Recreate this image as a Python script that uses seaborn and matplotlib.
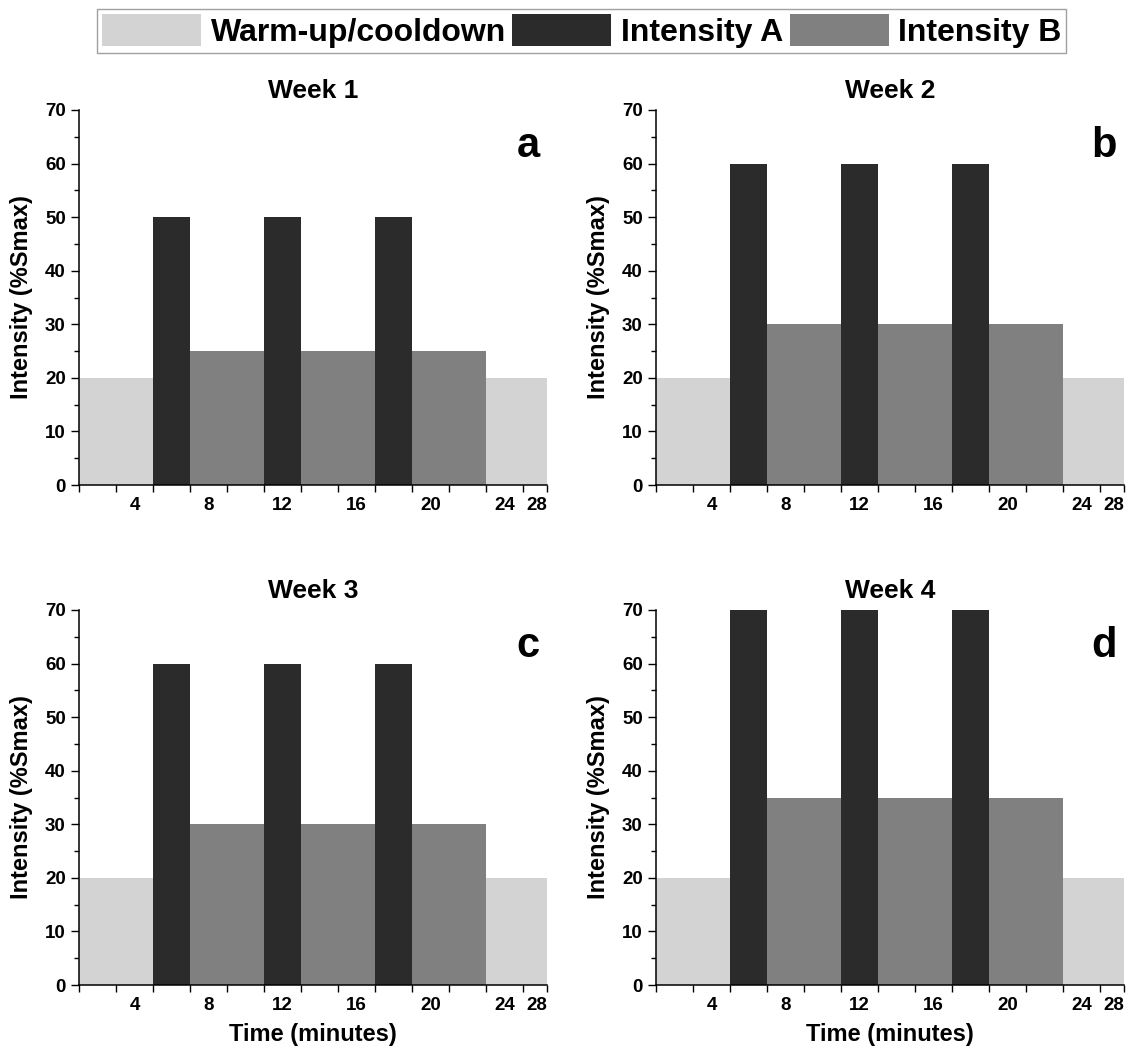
import numpy as np
import pandas as pd
import matplotlib.pyplot as plt
import seaborn as sns
from matplotlib.patches import Patch
from matplotlib.ticker import MultipleLocator, FixedLocator

# ---- data ---------------------------------------------------------------
weeks = ["Week 1", "Week 2", "Week 3", "Week 4"]
letters = ["a", "b", "c", "d"]
phases = ["Warm-up/cooldown", "Intensity A", "Intensity B", "Intensity A",
          "Intensity B", "Intensity A", "Intensity B", "Warm-up/cooldown"]
edges = [0, 4, 6, 10, 12, 16, 18, 22, 26]  # minutes
warmup = [20, 20, 20, 20]
int_a = [50, 60, 60, 70]
int_b = [25, 30, 30, 35]
tick_labels = ["4", "8", "12", "16", "20", "24", "28"]
tick_label_pos = [3, 7, 11, 15, 19, 23, 24.75]

colors = {"Warm-up/cooldown": "#d3d3d3", "Intensity A": "#2b2b2b", "Intensity B": "#808080"}
order = ["Warm-up/cooldown", "Intensity A", "Intensity B"]

sns.set_style("ticks")
plt.rcParams["font.family"] = ["Liberation Sans", "DejaVu Sans"]
plt.rcParams["font.weight"] = "bold"
plt.rcParams["axes.labelweight"] = "bold"
plt.rcParams["axes.titleweight"] = "bold"
for k in ["text.color", "axes.labelcolor", "xtick.color", "ytick.color", "axes.edgecolor"]:
    plt.rcParams[k] = "black"

fig = plt.figure(figsize=(11.32, 10.53), dpi=100)
W, H = 1132, 1053
boxes = [(79, 110), (656, 110), (79, 610), (656, 610)]  # left, top in px
aw, ah = 468, 375

for i, (left, top) in enumerate(boxes):
    ax = fig.add_axes([left / W, 1 - (top + ah) / H, aw / W, ah / H])
    level = {"Warm-up/cooldown": warmup[i], "Intensity A": int_a[i], "Intensity B": int_b[i]}
    mids = [(edges[k] + edges[k + 1]) / 2 for k in range(len(phases))]
    df = pd.DataFrame({"mid": mids, "phase": phases,
                       "intensity": [level[p] for p in phases]})
    sns.histplot(data=df, x="mid", weights="intensity", bins=edges, hue="phase",
                 hue_order=order, palette=colors, alpha=1, linewidth=0,
                 multiple="layer", legend=False, ax=ax)

    ax.set_xlim(0, 25.3)
    ax.set_ylim(0, 70)
    ax.yaxis.set_major_locator(MultipleLocator(10))
    ax.yaxis.set_minor_locator(MultipleLocator(5))
    ax.xaxis.set_major_locator(FixedLocator(list(range(0, 25, 2)) + [25.3]))
    ax.xaxis.set_minor_locator(FixedLocator(tick_label_pos))
    ax.set_xticklabels([])
    ax.set_xticklabels(tick_labels, minor=True)
    ax.tick_params(axis="x", which="minor", length=0, labelsize=13.5, pad=9)
    ax.tick_params(axis="x", which="major", length=5, width=1)
    ax.tick_params(axis="y", which="major", length=6, width=1, labelsize=13.5)
    ax.tick_params(axis="y", which="minor", length=3.5, width=1)
    for s in ["top", "right"]:
        ax.spines[s].set_visible(False)
    for s in ["left", "bottom"]:
        ax.spines[s].set_linewidth(1.1)

    ax.set_title(weeks[i], fontsize=19, pad=9)
    ax.set_ylabel("Intensity (%Smax)", fontsize=17, labelpad=9)
    if i >= 2:
        ax.set_xlabel("Time (minutes)", fontsize=17, labelpad=6)
    else:
        ax.set_xlabel("")
    ax.text(0.985, 0.905, letters[i], transform=ax.transAxes, ha="right",
            va="center", fontsize=30, fontweight="bold")

handles = [Patch(facecolor=colors[p], edgecolor="none", label=p) for p in order]
fig.legend(handles=handles, loc="upper center", bbox_to_anchor=(0.514, 0.991),
           ncol=3, fontsize=23, frameon=True, fancybox=False, edgecolor="#888888",
           handlelength=3.1, handleheight=1.15, handletextpad=0.3,
           columnspacing=0.2, borderpad=0.15, borderaxespad=0)

fig.savefig("out.png", dpi=100)
